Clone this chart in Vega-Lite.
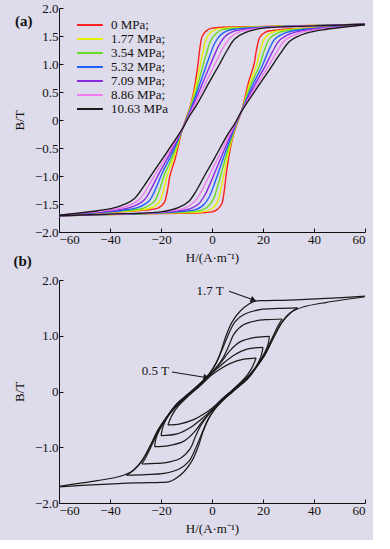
{
  "$schema": "https://vega.github.io/schema/vega-lite/v6.json",
  "background": "#dedbea",
  "padding": {"left": 13, "top": 2, "right": 5, "bottom": 5},
  "spacing": -10,
  "config": {
    "view": {"stroke": null},
    "font": "Liberation Serif",
    "axis": {"labelFont": "Liberation Serif", "labelFontSize": 13, "labelColor": "#111", "titleFont": "Liberation Serif", "titleFontSize": 13, "titleFontWeight": "normal", "titleColor": "#111", "domainColor": "#111", "tickColor": "#111", "tickSize": -4, "labelPadding": 5, "grid": false},
    "title": {"font": "Liberation Serif", "fontSize": 15, "fontWeight": "bold", "color": "#111", "anchor": "start", "frame": "bounds"}
  },
  "datasets": {
    "a": [
      {"s":"0 MPa;","b":"d","o":0,"H":60,"B":1.71},{"s":"0 MPa;","b":"d","o":1,"H":40,"B":1.69},{"s":"0 MPa;","b":"d","o":2,"H":20,"B":1.67},{"s":"0 MPa;","b":"d","o":3,"H":0,"B":1.64},{"s":"0 MPa;","b":"d","o":4,"H":-2,"B":1.6},{"s":"0 MPa;","b":"d","o":5,"H":-3.8,"B":1.5},{"s":"0 MPa;","b":"d","o":6,"H":-4.7,"B":1.3},{"s":"0 MPa;","b":"d","o":7,"H":-5.5,"B":1.0},{"s":"0 MPa;","b":"d","o":8,"H":-6.8,"B":0.6},{"s":"0 MPa;","b":"d","o":9,"H":-8.5,"B":0.25},{"s":"0 MPa;","b":"d","o":10,"H":-11.5,"B":-0.15},{"s":"0 MPa;","b":"d","o":11,"H":-14.5,"B":-0.7},{"s":"0 MPa;","b":"d","o":12,"H":-16.5,"B":-1.0},{"s":"0 MPa;","b":"d","o":13,"H":-17.6,"B":-1.29},{"s":"0 MPa;","b":"d","o":14,"H":-18.8,"B":-1.48},{"s":"0 MPa;","b":"d","o":15,"H":-21,"B":-1.57},{"s":"0 MPa;","b":"d","o":16,"H":-26,"B":-1.61},{"s":"0 MPa;","b":"d","o":17,"H":-41,"B":-1.65},{"s":"0 MPa;","b":"d","o":18,"H":-60,"B":-1.7},
      {"s":"0 MPa;","b":"a","o":0,"H":-60,"B":-1.71},{"s":"0 MPa;","b":"a","o":1,"H":-40,"B":-1.69},{"s":"0 MPa;","b":"a","o":2,"H":-20,"B":-1.67},{"s":"0 MPa;","b":"a","o":3,"H":0,"B":-1.64},{"s":"0 MPa;","b":"a","o":4,"H":2,"B":-1.6},{"s":"0 MPa;","b":"a","o":5,"H":3.8,"B":-1.5},{"s":"0 MPa;","b":"a","o":6,"H":4.7,"B":-1.3},{"s":"0 MPa;","b":"a","o":7,"H":5.5,"B":-1.0},{"s":"0 MPa;","b":"a","o":8,"H":6.8,"B":-0.6},{"s":"0 MPa;","b":"a","o":9,"H":8.5,"B":-0.25},{"s":"0 MPa;","b":"a","o":10,"H":11.5,"B":0.15},{"s":"0 MPa;","b":"a","o":11,"H":14.5,"B":0.7},{"s":"0 MPa;","b":"a","o":12,"H":16.5,"B":1.0},{"s":"0 MPa;","b":"a","o":13,"H":17.6,"B":1.29},{"s":"0 MPa;","b":"a","o":14,"H":18.8,"B":1.48},{"s":"0 MPa;","b":"a","o":15,"H":21,"B":1.57},{"s":"0 MPa;","b":"a","o":16,"H":26,"B":1.61},{"s":"0 MPa;","b":"a","o":17,"H":41,"B":1.65},{"s":"0 MPa;","b":"a","o":18,"H":60,"B":1.7},

      {"s":"1.77 MPa;","b":"d","o":0,"H":60,"B":1.71},{"s":"1.77 MPa;","b":"d","o":1,"H":40,"B":1.69},{"s":"1.77 MPa;","b":"d","o":2,"H":20,"B":1.665},{"s":"1.77 MPa;","b":"d","o":3,"H":2.2,"B":1.627},{"s":"1.77 MPa;","b":"d","o":4,"H":-0.2,"B":1.575},{"s":"1.77 MPa;","b":"d","o":5,"H":-2.2,"B":1.458},{"s":"1.77 MPa;","b":"d","o":6,"H":-3.4,"B":1.25},{"s":"1.77 MPa;","b":"d","o":7,"H":-4.75,"B":0.947},{"s":"1.77 MPa;","b":"d","o":8,"H":-6.67,"B":0.545},{"s":"1.77 MPa;","b":"d","o":9,"H":-8.58,"B":0.218},{"s":"1.77 MPa;","b":"d","o":10,"H":-11.5,"B":-0.15},{"s":"1.77 MPa;","b":"d","o":11,"H":-15.0,"B":-0.678},{"s":"1.77 MPa;","b":"d","o":12,"H":-17.5,"B":-0.985},{"s":"1.77 MPa;","b":"d","o":13,"H":-19.1,"B":-1.272},{"s":"1.77 MPa;","b":"d","o":14,"H":-20.8,"B":-1.468},{"s":"1.77 MPa;","b":"d","o":15,"H":-23.7,"B":-1.567},{"s":"1.77 MPa;","b":"d","o":16,"H":-29.2,"B":-1.612},{"s":"1.77 MPa;","b":"d","o":17,"H":-42.8,"B":-1.652},{"s":"1.77 MPa;","b":"d","o":18,"H":-60,"B":-1.7},
      {"s":"1.77 MPa;","b":"a","o":0,"H":-60,"B":-1.71},{"s":"1.77 MPa;","b":"a","o":1,"H":-40,"B":-1.69},{"s":"1.77 MPa;","b":"a","o":2,"H":-20,"B":-1.665},{"s":"1.77 MPa;","b":"a","o":3,"H":-2.2,"B":-1.627},{"s":"1.77 MPa;","b":"a","o":4,"H":0.2,"B":-1.575},{"s":"1.77 MPa;","b":"a","o":5,"H":2.2,"B":-1.458},{"s":"1.77 MPa;","b":"a","o":6,"H":3.4,"B":-1.25},{"s":"1.77 MPa;","b":"a","o":7,"H":4.75,"B":-0.947},{"s":"1.77 MPa;","b":"a","o":8,"H":6.67,"B":-0.545},{"s":"1.77 MPa;","b":"a","o":9,"H":8.58,"B":-0.218},{"s":"1.77 MPa;","b":"a","o":10,"H":11.5,"B":0.15},{"s":"1.77 MPa;","b":"a","o":11,"H":15.0,"B":0.678},{"s":"1.77 MPa;","b":"a","o":12,"H":17.5,"B":0.985},{"s":"1.77 MPa;","b":"a","o":13,"H":19.1,"B":1.272},{"s":"1.77 MPa;","b":"a","o":14,"H":20.8,"B":1.468},{"s":"1.77 MPa;","b":"a","o":15,"H":23.7,"B":1.567},{"s":"1.77 MPa;","b":"a","o":16,"H":29.2,"B":1.612},{"s":"1.77 MPa;","b":"a","o":17,"H":42.8,"B":1.652},{"s":"1.77 MPa;","b":"a","o":18,"H":60,"B":1.7},

      {"s":"3.54 MPa;","b":"d","o":0,"H":60,"B":1.71},{"s":"3.54 MPa;","b":"d","o":1,"H":40,"B":1.687},{"s":"3.54 MPa;","b":"d","o":2,"H":20,"B":1.66},{"s":"3.54 MPa;","b":"d","o":3,"H":4.3,"B":1.613},{"s":"3.54 MPa;","b":"d","o":4,"H":1.7,"B":1.55},{"s":"3.54 MPa;","b":"d","o":5,"H":-0.5,"B":1.417},{"s":"3.54 MPa;","b":"d","o":6,"H":-2.1,"B":1.2},{"s":"3.54 MPa;","b":"d","o":7,"H":-4.0,"B":0.893},{"s":"3.54 MPa;","b":"d","o":8,"H":-6.5,"B":0.49},{"s":"3.54 MPa;","b":"d","o":9,"H":-8.67,"B":0.187},{"s":"3.54 MPa;","b":"d","o":10,"H":-11.5,"B":-0.15},{"s":"3.54 MPa;","b":"d","o":11,"H":-15.5,"B":-0.657},{"s":"3.54 MPa;","b":"d","o":12,"H":-18.6,"B":-0.97},{"s":"3.54 MPa;","b":"d","o":13,"H":-20.6,"B":-1.253},{"s":"3.54 MPa;","b":"d","o":14,"H":-22.7,"B":-1.457},{"s":"3.54 MPa;","b":"d","o":15,"H":-26.3,"B":-1.563},{"s":"3.54 MPa;","b":"d","o":16,"H":-32.3,"B":-1.613},{"s":"3.54 MPa;","b":"d","o":17,"H":-44.7,"B":-1.653},{"s":"3.54 MPa;","b":"d","o":18,"H":-60,"B":-1.7},
      {"s":"3.54 MPa;","b":"a","o":0,"H":-60,"B":-1.71},{"s":"3.54 MPa;","b":"a","o":1,"H":-40,"B":-1.687},{"s":"3.54 MPa;","b":"a","o":2,"H":-20,"B":-1.66},{"s":"3.54 MPa;","b":"a","o":3,"H":-4.3,"B":-1.613},{"s":"3.54 MPa;","b":"a","o":4,"H":-1.7,"B":-1.55},{"s":"3.54 MPa;","b":"a","o":5,"H":0.5,"B":-1.417},{"s":"3.54 MPa;","b":"a","o":6,"H":2.1,"B":-1.2},{"s":"3.54 MPa;","b":"a","o":7,"H":4.0,"B":-0.893},{"s":"3.54 MPa;","b":"a","o":8,"H":6.5,"B":-0.49},{"s":"3.54 MPa;","b":"a","o":9,"H":8.67,"B":-0.187},{"s":"3.54 MPa;","b":"a","o":10,"H":11.5,"B":0.15},{"s":"3.54 MPa;","b":"a","o":11,"H":15.5,"B":0.657},{"s":"3.54 MPa;","b":"a","o":12,"H":18.6,"B":0.97},{"s":"3.54 MPa;","b":"a","o":13,"H":20.6,"B":1.253},{"s":"3.54 MPa;","b":"a","o":14,"H":22.7,"B":1.457},{"s":"3.54 MPa;","b":"a","o":15,"H":26.3,"B":1.563},{"s":"3.54 MPa;","b":"a","o":16,"H":32.3,"B":1.613},{"s":"3.54 MPa;","b":"a","o":17,"H":44.7,"B":1.653},{"s":"3.54 MPa;","b":"a","o":18,"H":60,"B":1.7},

      {"s":"5.32 MPa;","b":"d","o":0,"H":60,"B":1.71},{"s":"5.32 MPa;","b":"d","o":1,"H":40,"B":1.685},{"s":"5.32 MPa;","b":"d","o":2,"H":20,"B":1.655},{"s":"5.32 MPa;","b":"d","o":3,"H":6.5,"B":1.6},{"s":"5.32 MPa;","b":"d","o":4,"H":3.5,"B":1.525},{"s":"5.32 MPa;","b":"d","o":5,"H":1.1,"B":1.375},{"s":"5.32 MPa;","b":"d","o":6,"H":-0.85,"B":1.15},{"s":"5.32 MPa;","b":"d","o":7,"H":-3.25,"B":0.84},{"s":"5.32 MPa;","b":"d","o":8,"H":-6.4,"B":0.435},{"s":"5.32 MPa;","b":"d","o":9,"H":-8.75,"B":0.155},{"s":"5.32 MPa;","b":"d","o":10,"H":-11.5,"B":-0.15},{"s":"5.32 MPa;","b":"d","o":11,"H":-16.05,"B":-0.635},{"s":"5.32 MPa;","b":"d","o":12,"H":-19.6,"B":-0.955},{"s":"5.32 MPa;","b":"d","o":13,"H":-22.15,"B":-1.235},{"s":"5.32 MPa;","b":"d","o":14,"H":-24.7,"B":-1.445},{"s":"5.32 MPa;","b":"d","o":15,"H":-29,"B":-1.56},{"s":"5.32 MPa;","b":"d","o":16,"H":-35.5,"B":-1.615},{"s":"5.32 MPa;","b":"d","o":17,"H":-46.5,"B":-1.655},{"s":"5.32 MPa;","b":"d","o":18,"H":-60,"B":-1.7},
      {"s":"5.32 MPa;","b":"a","o":0,"H":-60,"B":-1.71},{"s":"5.32 MPa;","b":"a","o":1,"H":-40,"B":-1.685},{"s":"5.32 MPa;","b":"a","o":2,"H":-20,"B":-1.655},{"s":"5.32 MPa;","b":"a","o":3,"H":-6.5,"B":-1.6},{"s":"5.32 MPa;","b":"a","o":4,"H":-3.5,"B":-1.525},{"s":"5.32 MPa;","b":"a","o":5,"H":-1.1,"B":-1.375},{"s":"5.32 MPa;","b":"a","o":6,"H":0.85,"B":-1.15},{"s":"5.32 MPa;","b":"a","o":7,"H":3.25,"B":-0.84},{"s":"5.32 MPa;","b":"a","o":8,"H":6.4,"B":-0.435},{"s":"5.32 MPa;","b":"a","o":9,"H":8.75,"B":-0.155},{"s":"5.32 MPa;","b":"a","o":10,"H":11.5,"B":0.15},{"s":"5.32 MPa;","b":"a","o":11,"H":16.05,"B":0.635},{"s":"5.32 MPa;","b":"a","o":12,"H":19.6,"B":0.955},{"s":"5.32 MPa;","b":"a","o":13,"H":22.15,"B":1.235},{"s":"5.32 MPa;","b":"a","o":14,"H":24.7,"B":1.445},{"s":"5.32 MPa;","b":"a","o":15,"H":29,"B":1.56},{"s":"5.32 MPa;","b":"a","o":16,"H":35.5,"B":1.615},{"s":"5.32 MPa;","b":"a","o":17,"H":46.5,"B":1.655},{"s":"5.32 MPa;","b":"a","o":18,"H":60,"B":1.7},

      {"s":"7.09 MPa;","b":"d","o":0,"H":60,"B":1.71},{"s":"7.09 MPa;","b":"d","o":1,"H":40,"B":1.683},{"s":"7.09 MPa;","b":"d","o":2,"H":20,"B":1.65},{"s":"7.09 MPa;","b":"d","o":3,"H":8.7,"B":1.587},{"s":"7.09 MPa;","b":"d","o":4,"H":5.3,"B":1.5},{"s":"7.09 MPa;","b":"d","o":5,"H":2.7,"B":1.333},{"s":"7.09 MPa;","b":"d","o":6,"H":0.4,"B":1.1},{"s":"7.09 MPa;","b":"d","o":7,"H":-2.5,"B":0.787},{"s":"7.09 MPa;","b":"d","o":8,"H":-6.27,"B":0.38},{"s":"7.09 MPa;","b":"d","o":9,"H":-8.83,"B":0.123},{"s":"7.09 MPa;","b":"d","o":10,"H":-11.5,"B":-0.15},{"s":"7.09 MPa;","b":"d","o":11,"H":-16.6,"B":-0.613},{"s":"7.09 MPa;","b":"d","o":12,"H":-20.6,"B":-0.94},{"s":"7.09 MPa;","b":"d","o":13,"H":-23.7,"B":-1.217},{"s":"7.09 MPa;","b":"d","o":14,"H":-26.7,"B":-1.433},{"s":"7.09 MPa;","b":"d","o":15,"H":-31.7,"B":-1.557},{"s":"7.09 MPa;","b":"d","o":16,"H":-38.7,"B":-1.617},{"s":"7.09 MPa;","b":"d","o":17,"H":-48.3,"B":-1.657},{"s":"7.09 MPa;","b":"d","o":18,"H":-60,"B":-1.7},
      {"s":"7.09 MPa;","b":"a","o":0,"H":-60,"B":-1.71},{"s":"7.09 MPa;","b":"a","o":1,"H":-40,"B":-1.683},{"s":"7.09 MPa;","b":"a","o":2,"H":-20,"B":-1.65},{"s":"7.09 MPa;","b":"a","o":3,"H":-8.7,"B":-1.587},{"s":"7.09 MPa;","b":"a","o":4,"H":-5.3,"B":-1.5},{"s":"7.09 MPa;","b":"a","o":5,"H":-2.7,"B":-1.333},{"s":"7.09 MPa;","b":"a","o":6,"H":-0.4,"B":-1.1},{"s":"7.09 MPa;","b":"a","o":7,"H":2.5,"B":-0.787},{"s":"7.09 MPa;","b":"a","o":8,"H":6.27,"B":-0.38},{"s":"7.09 MPa;","b":"a","o":9,"H":8.83,"B":-0.123},{"s":"7.09 MPa;","b":"a","o":10,"H":11.5,"B":0.15},{"s":"7.09 MPa;","b":"a","o":11,"H":16.6,"B":0.613},{"s":"7.09 MPa;","b":"a","o":12,"H":20.6,"B":0.94},{"s":"7.09 MPa;","b":"a","o":13,"H":23.7,"B":1.217},{"s":"7.09 MPa;","b":"a","o":14,"H":26.7,"B":1.433},{"s":"7.09 MPa;","b":"a","o":15,"H":31.7,"B":1.557},{"s":"7.09 MPa;","b":"a","o":16,"H":38.7,"B":1.617},{"s":"7.09 MPa;","b":"a","o":17,"H":48.3,"B":1.657},{"s":"7.09 MPa;","b":"a","o":18,"H":60,"B":1.7},

      {"s":"8.86 MPa;","b":"d","o":0,"H":60,"B":1.71},{"s":"8.86 MPa;","b":"d","o":1,"H":40,"B":1.682},{"s":"8.86 MPa;","b":"d","o":2,"H":20,"B":1.645},{"s":"8.86 MPa;","b":"d","o":3,"H":10.8,"B":1.573},{"s":"8.86 MPa;","b":"d","o":4,"H":7.2,"B":1.475},{"s":"8.86 MPa;","b":"d","o":5,"H":4.4,"B":1.292},{"s":"8.86 MPa;","b":"d","o":6,"H":1.7,"B":1.05},{"s":"8.86 MPa;","b":"d","o":7,"H":-1.75,"B":0.733},{"s":"8.86 MPa;","b":"d","o":8,"H":-6.13,"B":0.325},{"s":"8.86 MPa;","b":"d","o":9,"H":-8.92,"B":0.092},{"s":"8.86 MPa;","b":"d","o":10,"H":-11.5,"B":-0.15},{"s":"8.86 MPa;","b":"d","o":11,"H":-17.1,"B":-0.592},{"s":"8.86 MPa;","b":"d","o":12,"H":-21.7,"B":-0.925},{"s":"8.86 MPa;","b":"d","o":13,"H":-25.2,"B":-1.198},{"s":"8.86 MPa;","b":"d","o":14,"H":-28.6,"B":-1.422},{"s":"8.86 MPa;","b":"d","o":15,"H":-34.3,"B":-1.553},{"s":"8.86 MPa;","b":"d","o":16,"H":-41.8,"B":-1.618},{"s":"8.86 MPa;","b":"d","o":17,"H":-50.2,"B":-1.658},{"s":"8.86 MPa;","b":"d","o":18,"H":-60,"B":-1.7},
      {"s":"8.86 MPa;","b":"a","o":0,"H":-60,"B":-1.71},{"s":"8.86 MPa;","b":"a","o":1,"H":-40,"B":-1.682},{"s":"8.86 MPa;","b":"a","o":2,"H":-20,"B":-1.645},{"s":"8.86 MPa;","b":"a","o":3,"H":-10.8,"B":-1.573},{"s":"8.86 MPa;","b":"a","o":4,"H":-7.2,"B":-1.475},{"s":"8.86 MPa;","b":"a","o":5,"H":-4.4,"B":-1.292},{"s":"8.86 MPa;","b":"a","o":6,"H":-1.7,"B":-1.05},{"s":"8.86 MPa;","b":"a","o":7,"H":1.75,"B":-0.733},{"s":"8.86 MPa;","b":"a","o":8,"H":6.13,"B":-0.325},{"s":"8.86 MPa;","b":"a","o":9,"H":8.92,"B":-0.092},{"s":"8.86 MPa;","b":"a","o":10,"H":11.5,"B":0.15},{"s":"8.86 MPa;","b":"a","o":11,"H":17.1,"B":0.592},{"s":"8.86 MPa;","b":"a","o":12,"H":21.7,"B":0.925},{"s":"8.86 MPa;","b":"a","o":13,"H":25.2,"B":1.198},{"s":"8.86 MPa;","b":"a","o":14,"H":28.6,"B":1.422},{"s":"8.86 MPa;","b":"a","o":15,"H":34.3,"B":1.553},{"s":"8.86 MPa;","b":"a","o":16,"H":41.8,"B":1.618},{"s":"8.86 MPa;","b":"a","o":17,"H":50.2,"B":1.658},{"s":"8.86 MPa;","b":"a","o":18,"H":60,"B":1.7},

      {"s":"10.63 MPa","b":"d","o":0,"H":60,"B":1.71},{"s":"10.63 MPa","b":"d","o":1,"H":40,"B":1.68},{"s":"10.63 MPa","b":"d","o":2,"H":20,"B":1.64},{"s":"10.63 MPa","b":"d","o":3,"H":13,"B":1.56},{"s":"10.63 MPa","b":"d","o":4,"H":9,"B":1.45},{"s":"10.63 MPa","b":"d","o":5,"H":6,"B":1.25},{"s":"10.63 MPa","b":"d","o":6,"H":3,"B":1.0},{"s":"10.63 MPa","b":"d","o":7,"H":-1,"B":0.68},{"s":"10.63 MPa","b":"d","o":8,"H":-6,"B":0.27},{"s":"10.63 MPa","b":"d","o":9,"H":-9,"B":0.06},{"s":"10.63 MPa","b":"d","o":10,"H":-11.5,"B":-0.15},{"s":"10.63 MPa","b":"d","o":11,"H":-17.6,"B":-0.57},{"s":"10.63 MPa","b":"d","o":12,"H":-22.7,"B":-0.91},{"s":"10.63 MPa","b":"d","o":13,"H":-26.7,"B":-1.18},{"s":"10.63 MPa","b":"d","o":14,"H":-30.6,"B":-1.41},{"s":"10.63 MPa","b":"d","o":15,"H":-37,"B":-1.55},{"s":"10.63 MPa","b":"d","o":16,"H":-45,"B":-1.62},{"s":"10.63 MPa","b":"d","o":17,"H":-52,"B":-1.66},{"s":"10.63 MPa","b":"d","o":18,"H":-60,"B":-1.7},
      {"s":"10.63 MPa","b":"a","o":0,"H":-60,"B":-1.71},{"s":"10.63 MPa","b":"a","o":1,"H":-40,"B":-1.68},{"s":"10.63 MPa","b":"a","o":2,"H":-20,"B":-1.64},{"s":"10.63 MPa","b":"a","o":3,"H":-13,"B":-1.56},{"s":"10.63 MPa","b":"a","o":4,"H":-9,"B":-1.45},{"s":"10.63 MPa","b":"a","o":5,"H":-6,"B":-1.25},{"s":"10.63 MPa","b":"a","o":6,"H":-3,"B":-1.0},{"s":"10.63 MPa","b":"a","o":7,"H":1,"B":-0.68},{"s":"10.63 MPa","b":"a","o":8,"H":6,"B":-0.27},{"s":"10.63 MPa","b":"a","o":9,"H":9,"B":-0.06},{"s":"10.63 MPa","b":"a","o":10,"H":11.5,"B":0.15},{"s":"10.63 MPa","b":"a","o":11,"H":17.6,"B":0.57},{"s":"10.63 MPa","b":"a","o":12,"H":22.7,"B":0.91},{"s":"10.63 MPa","b":"a","o":13,"H":26.7,"B":1.18},{"s":"10.63 MPa","b":"a","o":14,"H":30.6,"B":1.41},{"s":"10.63 MPa","b":"a","o":15,"H":37,"B":1.55},{"s":"10.63 MPa","b":"a","o":16,"H":45,"B":1.62},{"s":"10.63 MPa","b":"a","o":17,"H":52,"B":1.66},{"s":"10.63 MPa","b":"a","o":18,"H":60,"B":1.7}
    ],
    "b": [
      {"l":1,"b":"d","o":0,"H":60,"B":1.71},{"l":1,"b":"d","o":1,"H":45,"B":1.67},{"l":1,"b":"d","o":2,"H":30,"B":1.64},{"l":1,"b":"d","o":3,"H":20,"B":1.63},{"l":1,"b":"d","o":4,"H":17,"B":1.62},{"l":1,"b":"d","o":5,"H":14.5,"B":1.57},{"l":1,"b":"d","o":6,"H":11,"B":1.44},{"l":1,"b":"d","o":7,"H":7.8,"B":1.24},{"l":1,"b":"d","o":8,"H":5.5,"B":1.0},{"l":1,"b":"d","o":9,"H":3.5,"B":0.72},{"l":1,"b":"d","o":10,"H":1.5,"B":0.5},{"l":1,"b":"d","o":11,"H":-1,"B":0.32},{"l":1,"b":"d","o":12,"H":-4,"B":0.17},{"l":1,"b":"d","o":13,"H":-9,"B":-0.03},{"l":1,"b":"d","o":14,"H":-14,"B":-0.23},{"l":1,"b":"d","o":15,"H":-17,"B":-0.41},{"l":1,"b":"d","o":16,"H":-21,"B":-0.68},{"l":1,"b":"d","o":17,"H":-24.5,"B":-1.0},{"l":1,"b":"d","o":18,"H":-27.5,"B":-1.25},{"l":1,"b":"d","o":19,"H":-31,"B":-1.42},{"l":1,"b":"d","o":20,"H":-36,"B":-1.52},{"l":1,"b":"d","o":21,"H":-45,"B":-1.6},{"l":1,"b":"d","o":22,"H":-60,"B":-1.7},
      {"l":1,"b":"a","o":0,"H":-60,"B":-1.71},{"l":1,"b":"a","o":1,"H":-45,"B":-1.67},{"l":1,"b":"a","o":2,"H":-30,"B":-1.64},{"l":1,"b":"a","o":3,"H":-20,"B":-1.63},{"l":1,"b":"a","o":4,"H":-17,"B":-1.62},{"l":1,"b":"a","o":5,"H":-14.5,"B":-1.57},{"l":1,"b":"a","o":6,"H":-11,"B":-1.44},{"l":1,"b":"a","o":7,"H":-7.8,"B":-1.24},{"l":1,"b":"a","o":8,"H":-5.5,"B":-1.0},{"l":1,"b":"a","o":9,"H":-3.5,"B":-0.72},{"l":1,"b":"a","o":10,"H":-1.5,"B":-0.5},{"l":1,"b":"a","o":11,"H":1,"B":-0.32},{"l":1,"b":"a","o":12,"H":4,"B":-0.17},{"l":1,"b":"a","o":13,"H":9,"B":0.03},{"l":1,"b":"a","o":14,"H":14,"B":0.23},{"l":1,"b":"a","o":15,"H":17,"B":0.41},{"l":1,"b":"a","o":16,"H":21,"B":0.68},{"l":1,"b":"a","o":17,"H":24.5,"B":1.0},{"l":1,"b":"a","o":18,"H":27.5,"B":1.25},{"l":1,"b":"a","o":19,"H":31,"B":1.42},{"l":1,"b":"a","o":20,"H":36,"B":1.52},{"l":1,"b":"a","o":21,"H":45,"B":1.6},{"l":1,"b":"a","o":22,"H":60,"B":1.7},

      {"l":2,"b":"d","o":0,"H":33.5,"B":1.5},{"l":2,"b":"d","o":1,"H":26,"B":1.49},{"l":2,"b":"d","o":2,"H":18.8,"B":1.47},{"l":2,"b":"d","o":3,"H":12.5,"B":1.38},{"l":2,"b":"d","o":4,"H":9,"B":1.25},{"l":2,"b":"d","o":5,"H":7,"B":1.08},{"l":2,"b":"d","o":6,"H":5.5,"B":0.92},{"l":2,"b":"d","o":7,"H":3.5,"B":0.7},{"l":2,"b":"d","o":8,"H":1.5,"B":0.5},{"l":2,"b":"d","o":9,"H":-1,"B":0.32},{"l":2,"b":"d","o":10,"H":-4,"B":0.17},{"l":2,"b":"d","o":11,"H":-9,"B":-0.03},{"l":2,"b":"d","o":12,"H":-14,"B":-0.23},{"l":2,"b":"d","o":13,"H":-17,"B":-0.41},{"l":2,"b":"d","o":14,"H":-21,"B":-0.68},{"l":2,"b":"d","o":15,"H":-24.5,"B":-1.0},{"l":2,"b":"d","o":16,"H":-27.5,"B":-1.24},{"l":2,"b":"d","o":17,"H":-30.5,"B":-1.4},{"l":2,"b":"d","o":18,"H":-33.5,"B":-1.5},
      {"l":2,"b":"a","o":0,"H":-33.5,"B":-1.5},{"l":2,"b":"a","o":1,"H":-26,"B":-1.49},{"l":2,"b":"a","o":2,"H":-18.8,"B":-1.47},{"l":2,"b":"a","o":3,"H":-12.5,"B":-1.38},{"l":2,"b":"a","o":4,"H":-9,"B":-1.25},{"l":2,"b":"a","o":5,"H":-7,"B":-1.08},{"l":2,"b":"a","o":6,"H":-5.5,"B":-0.92},{"l":2,"b":"a","o":7,"H":-3.5,"B":-0.7},{"l":2,"b":"a","o":8,"H":-1.5,"B":-0.5},{"l":2,"b":"a","o":9,"H":1,"B":-0.32},{"l":2,"b":"a","o":10,"H":4,"B":-0.17},{"l":2,"b":"a","o":11,"H":9,"B":0.03},{"l":2,"b":"a","o":12,"H":14,"B":0.23},{"l":2,"b":"a","o":13,"H":17,"B":0.41},{"l":2,"b":"a","o":14,"H":21,"B":0.68},{"l":2,"b":"a","o":15,"H":24.5,"B":1.0},{"l":2,"b":"a","o":16,"H":27.5,"B":1.24},{"l":2,"b":"a","o":17,"H":30.5,"B":1.4},{"l":2,"b":"a","o":18,"H":33.5,"B":1.5},

      {"l":3,"b":"d","o":0,"H":27.5,"B":1.3},{"l":3,"b":"d","o":1,"H":22,"B":1.29},{"l":3,"b":"d","o":2,"H":18.8,"B":1.28},{"l":3,"b":"d","o":3,"H":12.5,"B":1.2},{"l":3,"b":"d","o":4,"H":8.6,"B":1.03},{"l":3,"b":"d","o":5,"H":6.6,"B":0.82},{"l":3,"b":"d","o":6,"H":4.5,"B":0.62},{"l":3,"b":"d","o":7,"H":2,"B":0.45},{"l":3,"b":"d","o":8,"H":-1,"B":0.3},{"l":3,"b":"d","o":9,"H":-4,"B":0.16},{"l":3,"b":"d","o":10,"H":-9,"B":-0.04},{"l":3,"b":"d","o":11,"H":-14,"B":-0.24},{"l":3,"b":"d","o":12,"H":-17,"B":-0.42},{"l":3,"b":"d","o":13,"H":-20.5,"B":-0.67},{"l":3,"b":"d","o":14,"H":-23.5,"B":-0.95},{"l":3,"b":"d","o":15,"H":-25.8,"B":-1.17},{"l":3,"b":"d","o":16,"H":-27.5,"B":-1.3},
      {"l":3,"b":"a","o":0,"H":-27.5,"B":-1.3},{"l":3,"b":"a","o":1,"H":-22,"B":-1.29},{"l":3,"b":"a","o":2,"H":-18.8,"B":-1.28},{"l":3,"b":"a","o":3,"H":-12.5,"B":-1.2},{"l":3,"b":"a","o":4,"H":-8.6,"B":-1.03},{"l":3,"b":"a","o":5,"H":-6.6,"B":-0.82},{"l":3,"b":"a","o":6,"H":-4.5,"B":-0.62},{"l":3,"b":"a","o":7,"H":-2,"B":-0.45},{"l":3,"b":"a","o":8,"H":1,"B":-0.3},{"l":3,"b":"a","o":9,"H":4,"B":-0.16},{"l":3,"b":"a","o":10,"H":9,"B":0.04},{"l":3,"b":"a","o":11,"H":14,"B":0.24},{"l":3,"b":"a","o":12,"H":17,"B":0.42},{"l":3,"b":"a","o":13,"H":20.5,"B":0.67},{"l":3,"b":"a","o":14,"H":23.5,"B":0.95},{"l":3,"b":"a","o":15,"H":25.8,"B":1.17},{"l":3,"b":"a","o":16,"H":27.5,"B":1.3},

      {"l":4,"b":"d","o":0,"H":22.5,"B":0.99},{"l":4,"b":"d","o":1,"H":17,"B":0.97},{"l":4,"b":"d","o":2,"H":11,"B":0.89},{"l":4,"b":"d","o":3,"H":7,"B":0.73},{"l":4,"b":"d","o":4,"H":4,"B":0.55},{"l":4,"b":"d","o":5,"H":1.5,"B":0.41},{"l":4,"b":"d","o":6,"H":-1,"B":0.29},{"l":4,"b":"d","o":7,"H":-4,"B":0.15},{"l":4,"b":"d","o":8,"H":-9,"B":-0.05},{"l":4,"b":"d","o":9,"H":-14,"B":-0.26},{"l":4,"b":"d","o":10,"H":-17.5,"B":-0.45},{"l":4,"b":"d","o":11,"H":-20.5,"B":-0.68},{"l":4,"b":"d","o":12,"H":-22,"B":-0.85},{"l":4,"b":"d","o":13,"H":-22.5,"B":-0.99},
      {"l":4,"b":"a","o":0,"H":-22.5,"B":-0.99},{"l":4,"b":"a","o":1,"H":-17,"B":-0.97},{"l":4,"b":"a","o":2,"H":-11,"B":-0.89},{"l":4,"b":"a","o":3,"H":-7,"B":-0.73},{"l":4,"b":"a","o":4,"H":-4,"B":-0.55},{"l":4,"b":"a","o":5,"H":-1.5,"B":-0.41},{"l":4,"b":"a","o":6,"H":1,"B":-0.29},{"l":4,"b":"a","o":7,"H":4,"B":-0.15},{"l":4,"b":"a","o":8,"H":9,"B":0.05},{"l":4,"b":"a","o":9,"H":14,"B":0.26},{"l":4,"b":"a","o":10,"H":17.5,"B":0.45},{"l":4,"b":"a","o":11,"H":20.5,"B":0.68},{"l":4,"b":"a","o":12,"H":22,"B":0.85},{"l":4,"b":"a","o":13,"H":22.5,"B":0.99},

      {"l":5,"b":"d","o":0,"H":20,"B":0.79},{"l":5,"b":"d","o":1,"H":13.7,"B":0.76},{"l":5,"b":"d","o":2,"H":8.6,"B":0.65},{"l":5,"b":"d","o":3,"H":4,"B":0.49},{"l":5,"b":"d","o":4,"H":1,"B":0.37},{"l":5,"b":"d","o":5,"H":-1.5,"B":0.26},{"l":5,"b":"d","o":6,"H":-4,"B":0.14},{"l":5,"b":"d","o":7,"H":-9,"B":-0.06},{"l":5,"b":"d","o":8,"H":-14,"B":-0.27},{"l":5,"b":"d","o":9,"H":-17,"B":-0.43},{"l":5,"b":"d","o":10,"H":-19,"B":-0.6},{"l":5,"b":"d","o":11,"H":-20,"B":-0.79},
      {"l":5,"b":"a","o":0,"H":-20,"B":-0.79},{"l":5,"b":"a","o":1,"H":-13.7,"B":-0.76},{"l":5,"b":"a","o":2,"H":-8.6,"B":-0.65},{"l":5,"b":"a","o":3,"H":-4,"B":-0.49},{"l":5,"b":"a","o":4,"H":-1,"B":-0.37},{"l":5,"b":"a","o":5,"H":1.5,"B":-0.26},{"l":5,"b":"a","o":6,"H":4,"B":-0.14},{"l":5,"b":"a","o":7,"H":9,"B":0.06},{"l":5,"b":"a","o":8,"H":14,"B":0.27},{"l":5,"b":"a","o":9,"H":17,"B":0.43},{"l":5,"b":"a","o":10,"H":19,"B":0.6},{"l":5,"b":"a","o":11,"H":20,"B":0.79},

      {"l":6,"b":"d","o":0,"H":17.3,"B":0.6},{"l":6,"b":"d","o":1,"H":12.5,"B":0.58},{"l":6,"b":"d","o":2,"H":7,"B":0.5},{"l":6,"b":"d","o":3,"H":3.1,"B":0.4},{"l":6,"b":"d","o":4,"H":0,"B":0.3},{"l":6,"b":"d","o":5,"H":-2,"B":0.22},{"l":6,"b":"d","o":6,"H":-4,"B":0.13},{"l":6,"b":"d","o":7,"H":-9,"B":-0.07},{"l":6,"b":"d","o":8,"H":-13,"B":-0.25},{"l":6,"b":"d","o":9,"H":-15.5,"B":-0.41},{"l":6,"b":"d","o":10,"H":-17.3,"B":-0.6},
      {"l":6,"b":"a","o":0,"H":-17.3,"B":-0.6},{"l":6,"b":"a","o":1,"H":-12.5,"B":-0.58},{"l":6,"b":"a","o":2,"H":-7,"B":-0.5},{"l":6,"b":"a","o":3,"H":-3.1,"B":-0.4},{"l":6,"b":"a","o":4,"H":0,"B":-0.3},{"l":6,"b":"a","o":5,"H":2,"B":-0.22},{"l":6,"b":"a","o":6,"H":4,"B":-0.13},{"l":6,"b":"a","o":7,"H":9,"B":0.07},{"l":6,"b":"a","o":8,"H":13,"B":0.25},{"l":6,"b":"a","o":9,"H":15.5,"B":0.41},{"l":6,"b":"a","o":10,"H":17.3,"B":0.6}
    ],
    "arrows": [
      {"k":"1.7 T","H1":6.7,"B1":1.8,"H2":16.1,"B2":1.645},
      {"k":"0.5 T","H1":-15.7,"B1":0.35,"H2":-2.35,"B2":0.25}
    ],
    "tips": [
      {"k":"1.7 T","H":16.3,"B":1.64},
      {"k":"0.5 T","H":-2.2,"B":0.25}
    ],
    "labels": [
      {"k":"1.7 T","H":4.6,"B":1.8},
      {"k":"0.5 T","H":-16.9,"B":0.37}
    ]
  },
  "vconcat": [
    {
      "width": 306,
      "height": 224,
      "title": {"text": "(a)", "frame": "group", "dx": -44, "dy": 31},
      "data": {"name": "a"},
      "mark": {"type": "line", "interpolate": "catmull-rom", "strokeWidth": 1.4},
      "encoding": {
        "x": {"field": "H", "type": "quantitative", "scale": {"domain": [-60, 60], "nice": false}, "axis": {"values": [-60, -40, -20, 0, 20, 40, 60], "title": "H/(A·m⁻¹)", "titlePadding": 5}},
        "y": {"field": "B", "type": "quantitative", "scale": {"domain": [-2, 2], "nice": false}, "axis": {"values": [-2, -1.5, -1, -0.5, 0, 0.5, 1, 1.5, 2], "labelExpr": "datum.value == 0 ? '0' : format(datum.value, '.1f')", "title": "B/T", "titlePadding": 8}},
        "color": {"field": "s", "type": "nominal", "scale": {"domain": ["0 MPa;", "1.77 MPa;", "3.54 MPa;", "5.32 MPa;", "7.09 MPa;", "8.86 MPa;", "10.63 MPa"], "range": ["#ff1f1f", "#e2f000", "#66dd22", "#2060ff", "#8a2be2", "#f07cf0", "#1a1a1a"]}, "legend": {"orient": "none", "legendX": 17, "legendY": 10.5, "title": null, "symbolType": "M-1,0H3.7", "symbolSize": 121, "symbolStrokeWidth": 2, "labelFont": "Liberation Serif", "labelFontSize": 13, "labelColor": "#111", "labelOffset": 22, "rowPadding": -3, "padding": 0}},
        "detail": {"field": "b"},
        "order": {"field": "o", "type": "quantitative"}
      }
    },
    {
      "width": 306,
      "height": 223,
      "title": {"text": "(b)", "dx": 0, "offset": 5},
      "layer": [
        {
          "data": {"name": "b"},
          "mark": {"type": "line", "interpolate": "catmull-rom", "strokeWidth": 1.2, "color": "#1a1a1a"},
          "encoding": {
            "x": {"field": "H", "type": "quantitative", "scale": {"domain": [-60, 60], "nice": false}, "axis": {"values": [-60, -40, -20, 0, 20, 40, 60], "title": "H/(A·m⁻¹)", "titlePadding": 5}},
            "y": {"field": "B", "type": "quantitative", "scale": {"domain": [-2, 2], "nice": false}, "axis": {"values": [-2, -1.5, -1, -0.5, 0, 0.5, 1, 1.5, 2], "labelExpr": "datum.value == 0 ? '0' : format(datum.value, '.1f')", "title": "B/T", "titlePadding": 8}},
            "detail": [{"field": "l"}, {"field": "b"}],
            "order": {"field": "o", "type": "quantitative"}
          }
        },
        {
          "data": {"name": "arrows"},
          "mark": {"type": "rule", "strokeWidth": 1.1, "color": "#1a1a1a"},
          "encoding": {
            "x": {"field": "H1", "type": "quantitative"},
            "y": {"field": "B1", "type": "quantitative"},
            "x2": {"field": "H2"},
            "y2": {"field": "B2"}
          }
        },
        {
          "data": {"name": "tips"},
          "transform": [{"filter": "datum.k == '1.7 T'"}],
          "mark": {"type": "point", "shape": "triangle-right", "angle": 20, "filled": true, "size": 45, "color": "#1a1a1a", "opacity": 1},
          "encoding": {"x": {"field": "H", "type": "quantitative"}, "y": {"field": "B", "type": "quantitative"}}
        },
        {
          "data": {"name": "tips"},
          "transform": [{"filter": "datum.k == '0.5 T'"}],
          "mark": {"type": "point", "shape": "triangle-right", "angle": 9, "filled": true, "size": 45, "color": "#1a1a1a", "opacity": 1},
          "encoding": {"x": {"field": "H", "type": "quantitative"}, "y": {"field": "B", "type": "quantitative"}}
        },
        {
          "data": {"name": "labels"},
          "mark": {"type": "text", "align": "right", "baseline": "middle", "font": "Liberation Serif", "fontSize": 13, "color": "#111"},
          "encoding": {"x": {"field": "H", "type": "quantitative"}, "y": {"field": "B", "type": "quantitative"}, "text": {"field": "k"}}
        }
      ]
    }
  ]
}
